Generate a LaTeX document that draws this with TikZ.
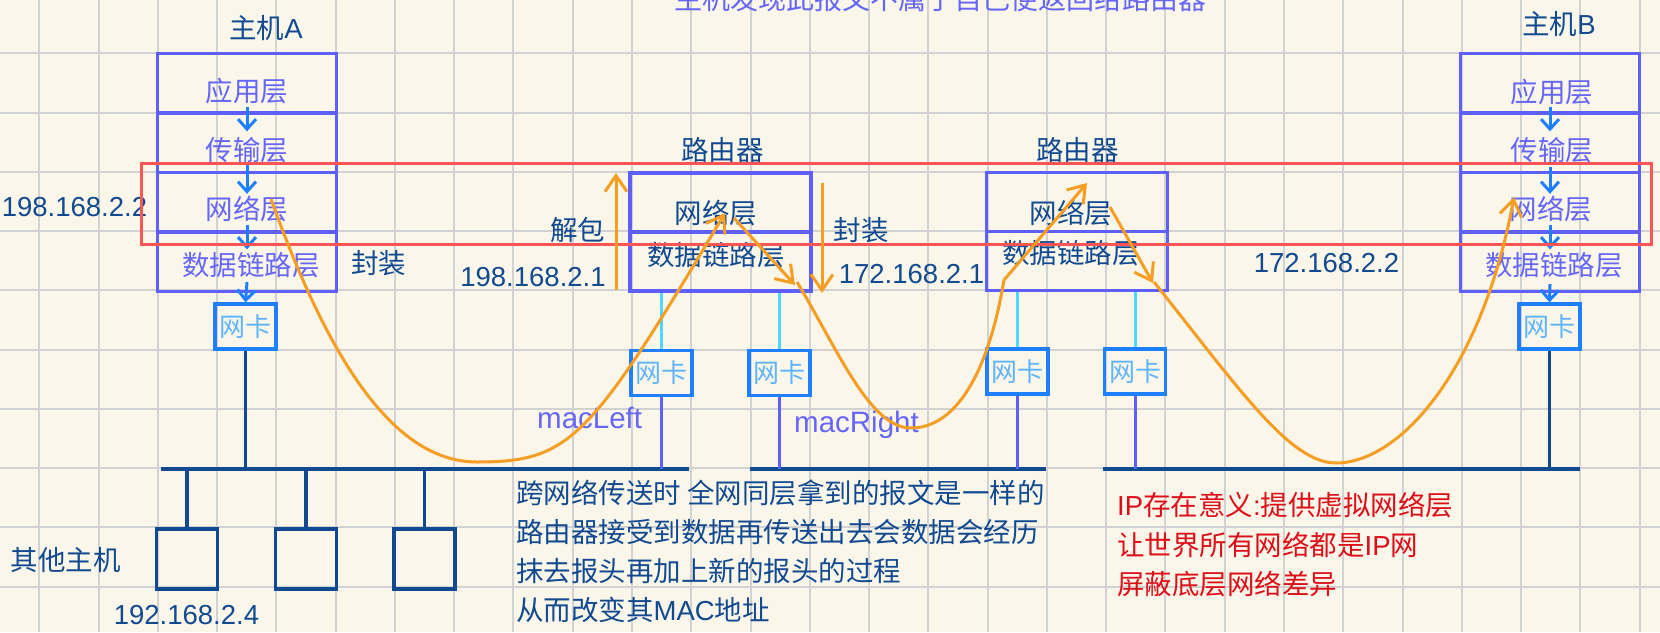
\documentclass[tikz,border=0pt]{standalone}
\usepackage{fontspec}
\setmainfont{Liberation Sans}
\newfontfamily\cjk{Noto Sans CJK SC}
\usetikzlibrary{arrows.meta}
\definecolor{bgc}{RGB}{250,247,234}
\definecolor{gridc}{RGB}{210,210,210}
\definecolor{layerc}{RGB}{95,95,250}
\definecolor{layert}{RGB}{102,102,248}
\definecolor{navy}{RGB}{18,74,145}
\definecolor{arrowb}{RGB}{30,128,255}
\definecolor{nict}{RGB}{95,180,255}
\definecolor{cyanl}{RGB}{80,215,255}
\definecolor{orangec}{RGB}{245,158,35}
\definecolor{redbox}{RGB}{250,85,85}
\definecolor{redt}{RGB}{222,14,24}
\begin{document}
\begin{tikzpicture}[x=1pt,y=-1pt,
  txt/.style={font=\fontsize{27.5}{39}\selectfont, inner sep=0pt},
  ltext/.style={txt,text=layert},
  ntext/.style={txt,text=navy},
  hcell/.style={draw=layerc,line width=3.3pt,minimum width=179pt,minimum height=59.5pt,inner sep=0pt},
  rcell/.style={draw=layerc,line width=3.3pt,minimum width=181pt,minimum height=59pt,inner sep=0pt},
  nic/.style={draw=arrowb,line width=3.3pt,minimum width=61pt,minimum height=45pt,inner sep=0pt,text=nict,font=\fontsize{26}{30}\selectfont\cjk},
  otherhost/.style={draw=navy,line width=3.5pt,minimum width=61pt,minimum height=60pt,inner sep=0pt},
  barrow/.style={draw=arrowb,line width=3pt,-{Straight Barb[length=10pt,width=18pt]}},
  oarrow/.style={draw=orangec,line width=3pt,-{Straight Barb[length=16pt,width=22pt]}},
  bus/.style={draw=navy,line width=3.5pt},
  navylink/.style={draw=navy,line width=3.2pt},
  purplelink/.style={draw=layerc,line width=3pt},
  cyanlink/.style={draw=cyanl,line width=3pt},
  gridline/.style={draw=gridc,line width=2pt}
]
\useasboundingbox (0,0) rectangle (1660,632);
\fill[bgc] (0,0) rectangle (1660,632);
% grid
\foreach \i in {0,...,27} \draw[gridline] ({39.3+59.27*\i},0) -- ({39.3+59.27*\i},632);
\foreach \j in {0,...,9} \draw[gridline] (0,{53.3+59.27*\j}) -- (1660,{53.3+59.27*\j});

% title (cut off at top)
\node[txt,text=layert,font=\fontsize{28}{34}\selectfont\cjk] (title) at (940.5,-1) {主机发现此报文不属于自己便返回给路由器};

% Host A
\node[ntext] (hostAlabel) at (266,28) {{\cjk 主机}A};
\node[hcell] (aApp) at (247,83.25) {};
\node[hcell] (aTrans) at (247,142.75) {};
\node[hcell] (aNet) at (247,202.25) {};
\node[hcell] (aLink) at (247,261.75) {};
\node[ltext] (aAppT) at (247,91) {\cjk 应用层};
\node[ltext] (aTransT) at (247,150) {\cjk 传输层};
\node[ltext] (aNetT) at (247,209) {\cjk 网络层};
\node[ltext] (aLinkT) at (251,265) {\cjk 数据链路层};
\node[nic] (aNic) at (245.5,326.5) {网卡};
\draw[barrow] ([yshift=8pt]aApp.south) -- ([yshift=-20pt]aTrans.north);
\draw[barrow] ([yshift=9pt]aTrans.south) -- ([yshift=-23pt]aNet.north);
\draw[barrow] ([yshift=9pt]aNet.south) -- ([yshift=-19pt]aLink.north);
\draw[barrow] ([yshift=11pt]aLink.south) -- (aNic.north);

% Host B
\node[ntext] (hostBlabel) at (1559,24) {{\cjk 主机}B};
\node[hcell] (bApp) at (1550,83.25) {};
\node[hcell] (bTrans) at (1550,142.75) {};
\node[hcell] (bNet) at (1550,202.25) {};
\node[hcell] (bLink) at (1550,261.75) {};
\node[ltext] (bAppT) at (1552,92) {\cjk 应用层};
\node[ltext] (bTransT) at (1552,150) {\cjk 传输层};
\node[ltext] (bNetT) at (1551,209) {\cjk 网络层};
\node[ltext] (bLinkT) at (1554,265) {\cjk 数据链路层};
\node[nic] (bNic) at (1549.5,326.5) {网卡};
\draw[barrow] ([yshift=8pt]bApp.south) -- ([yshift=-20pt]bTrans.north);
\draw[barrow] ([yshift=7pt]bTrans.south) -- ([yshift=-23pt]bNet.north);
\draw[barrow] ([yshift=9pt]bNet.south) -- ([yshift=-19pt]bLink.north);
\draw[barrow] ([yshift=9pt]bLink.south) -- (bNic.north);

% Router 1
\node[ntext] (r1label) at (722.5,150) {\cjk 路由器};
\node[rcell] (r1Net) at (720.5,202.5) {};
\node[rcell] (r1Link) at (720.5,261.5) {};
\node[ntext] (r1NetT) at (716,213) {\cjk 网络层};
\node[ntext] (r1LinkT) at (716,255) {\cjk 数据链路层};
\node[nic] (r1L) at (661.5,373) {网卡};
\node[nic] (r1R) at (779.5,373) {网卡};

% Router 2
\node[ntext] (r2label) at (1077.5,150) {\cjk 路由器};
\node[rcell] (r2Net) at (1077,202) {};
\node[rcell] (r2Link) at (1077,261) {};
\node[ntext] (r2NetT) at (1071,213) {\cjk 网络层};
\node[ntext] (r2LinkT) at (1071,253) {\cjk 数据链路层};
\node[nic] (r2L) at (1017.5,371.5) {网卡};
\node[nic] (r2R) at (1135,371.5) {网卡};

% buses
\coordinate (busA1) at (161,469); \coordinate (busA2) at (689,469);
\coordinate (busM1) at (750,469); \coordinate (busM2) at (1046,469);
\coordinate (busR1) at (1103,469); \coordinate (busR2) at (1580,469);
\draw[bus] (busA1) -- (busA2);
\draw[bus] (busM1) -- (busM2);
\draw[bus] (busR1) -- (busR2);

\draw[navylink] (aNic.south) -- (aNic.south |- busA1);
\draw[navylink] (bNic.south) -- (bNic.south |- busR1);
\foreach \n in {r1L,r1R} \draw[cyanlink] (\n.north) -- (\n.north |- r1Link.south);
\foreach \n in {r2L,r2R} \draw[cyanlink] (\n.north) -- (\n.north |- r2Link.south);
\draw[purplelink] (r1L.south) -- (r1L.south |- busA1);
\draw[purplelink] (r1R.south) -- (r1R.south |- busM1);
\draw[purplelink] (r2L.south) -- (r2L.south |- busM1);
\draw[purplelink] (r2R.south) -- (r2R.south |- busR1);

% other hosts
\node[otherhost] (o1) at (187,559) {};
\node[otherhost] (o2) at (306,559) {};
\node[otherhost] (o3) at (424.5,559) {};
\foreach \n in {o1,o2,o3} \draw[navylink] (\n.north |- busA1) -- (\n.north);
\node[ntext] (otherlabel) at (65.5,560) {\cjk 其他主机};
\node[ntext] (ip4) at (186.5,615) {192.168.2.4};

% labels
\node[ntext] (ipA) at (74.5,207) {198.168.2.2};
\node[ntext] (fzA) at (378.5,263) {\cjk 封装};
\node[ntext] (jb) at (577.5,230) {\cjk 解包};
\node[ntext] (ipR1) at (533,277) {198.168.2.1};
\node[ntext] (fzR) at (861,230) {\cjk 封装};
\node[ntext] (ipR2) at (911.5,274) {172.168.2.1};
\node[ntext] (ipB) at (1326.5,263) {172.168.2.2};
\node[txt,text=layert,font=\fontsize{29.5}{34}\selectfont,anchor=base west] (macL) at (537,428) {macLeft};
\node[txt,text=layert,font=\fontsize{29.5}{34}\selectfont,anchor=base west] (macR) at (794,432) {macRight};

% red focus rectangle
\node[draw=redbox,line width=3pt,minimum width=1510pt,minimum height=81pt,inner sep=0pt] (focus) at (896,203.5) {};

% orange vertical arrows
\coordinate (upS) at (616,290); \coordinate (upE) at (616,173);
\coordinate (dnS) at (822,183); \coordinate (dnE) at (822,293);
\draw[oarrow] (upS) -- (upE);
\draw[oarrow] (dnS) -- (dnE);

% orange packet path
\coordinate (c1s) at (271,199); \coordinate (c1b) at (477,462); \coordinate (c1e) at (725,213);
\draw[oarrow] (c1s) .. controls (325,350) and (390,462) .. (c1b) .. controls (570,462) and (590,440) .. (c1e);
\coordinate (c2s) at (734,218); \coordinate (c2e) at (795,285);
\draw[oarrow] (c2s) -- (c2e);
\coordinate (c3s) at (797,282); \coordinate (c3b) at (911,428); \coordinate (c3k) at (1004,280); \coordinate (c3e) at (1087,183);
\draw[oarrow] (c3s) .. controls (839,352) and (870,428) .. (c3b) .. controls (955,428) and (988,375) .. (c3k) -- (c3e);
\coordinate (c4s) at (1110,207); \coordinate (c4e) at (1153,283);
\draw[oarrow] (c4s) -- (c4e);
\coordinate (c5s) at (1154,282); \coordinate (c5b) at (1336,463); \coordinate (c5e) at (1514,197);
\draw[oarrow] (c5s) .. controls (1240,390) and (1290,463) .. (c5b) .. controls (1400,463) and (1482,370) .. (c5e);

% notes
\node[ntext,anchor=west,align=left] (note) at (516,551.5) {{\cjk 跨网络传送时 全网同层拿到的报文是一样的}\\{\cjk 路由器接受到数据再传送出去会数据会经历}\\{\cjk 抹去报头再加上新的报头的过程}\\{\cjk 从而改变其}MAC{\cjk 地址}};
\node[txt,text=redt,font=\fontsize{27.5}{39.5}\selectfont,anchor=west,align=left] (ipnote) at (1117,544.5) {IP{\cjk 存在意义}:{\cjk 提供虚拟网络层}\\{\cjk 让世界所有网络都是}IP{\cjk 网}\\{\cjk 屏蔽底层网络差异}};
\end{tikzpicture}
\end{document}
